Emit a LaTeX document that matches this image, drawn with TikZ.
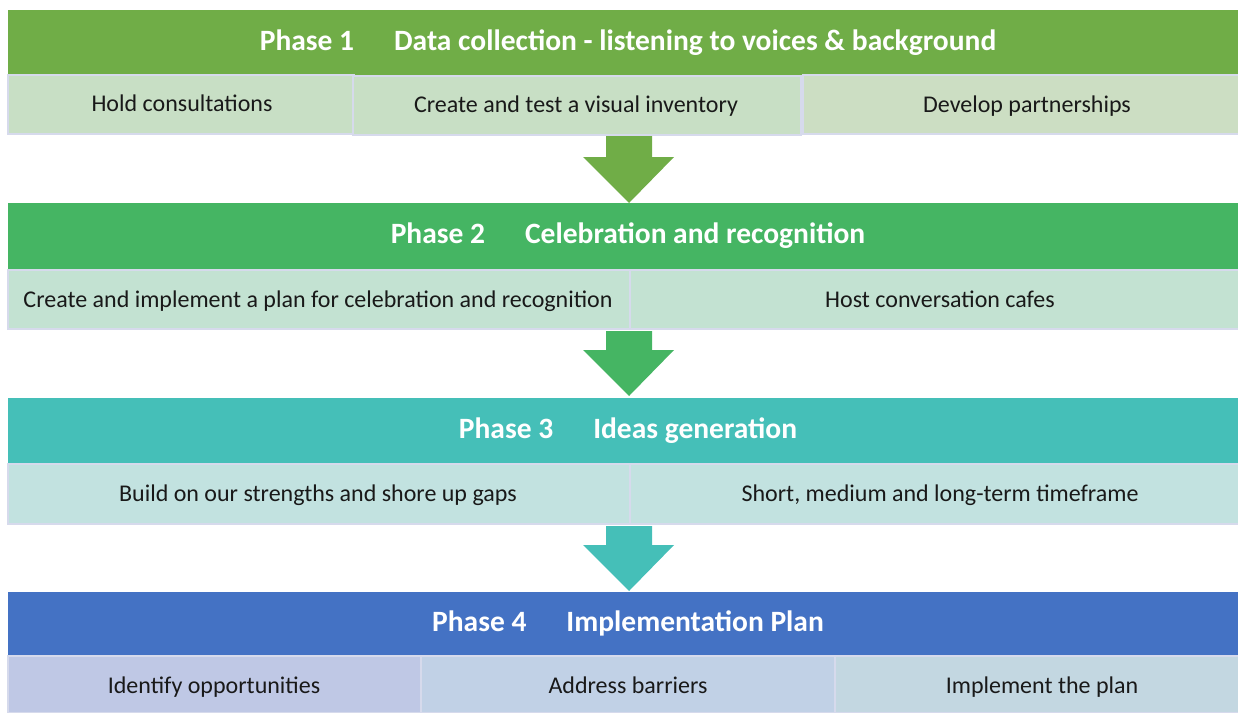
\documentclass[tikz,border=0pt]{standalone}
\usepackage{fontspec}
\setmainfont{Carlito}
\definecolor{hOne}{HTML}{70AD47}
\definecolor{hTwo}{HTML}{45B563}
\definecolor{hThree}{HTML}{45BFB8}
\definecolor{hFour}{HTML}{4472C4}
\definecolor{rOne}{HTML}{C8DFC5}
\definecolor{rOneB}{HTML}{CCDEC3}
\definecolor{rTwo}{HTML}{C3E2D2}
\definecolor{rThree}{HTML}{C2E2E0}
\definecolor{rFourA}{HTML}{BFC8E5}
\definecolor{rFourB}{HTML}{C1D1E6}
\definecolor{rFourC}{HTML}{C3D7E1}
\definecolor{edgeC}{HTML}{D6DAEC}
\tikzset{
  header/.style={fill=#1, draw=none},
  cell/.style={fill=#1, draw=edgeC, line width=1.5pt},
  htext/.style={text=white, font=\fontsize{29.5}{34}\selectfont\bfseries, anchor=center, text height=0.66em, text depth=0.2em, yshift=-5pt},
  ctext/.style={text=black!90, font=\fontsize{24}{28}\selectfont, anchor=center, text height=0.66em, text depth=0.2em, yshift=-4pt},
  blockarrow/.style={fill=#1, draw=none}
}
\begin{document}
\begin{tikzpicture}[x=1pt,y=-1pt]
\useasboundingbox (0,0) rectangle (1238,712);
% Phase 1
\fill[header=hOne] (8,10) rectangle (1238,75);
\node[htext] (p1) at (628,43) {Phase 1\hspace{40pt}Data collection - listening to voices \& background};
\filldraw[cell=rOne] (8,75) rectangle (354,134);
\filldraw[cell=rOne] (353,76) rectangle (801,135);
\filldraw[cell=rOneB] (803,75) rectangle (1239,134);
\node[ctext] (c11) at (182,105) {Hold consultations};
\node[ctext] (c12) at (576,106) {Create and test a visual inventory};
\node[ctext] (c13) at (1027,106) {Develop partnerships};
% Arrow 1
\fill[blockarrow=hOne] (606,136) -- (652,136) -- (652,157) -- (674,157) -- (629,203) -- (583,157) -- (606,157) -- cycle;
% Phase 2
\fill[header=hTwo] (8,203) rectangle (1238,270);
\node[htext] (p2) at (628,236) {Phase 2\hspace{40pt}Celebration and recognition};
\filldraw[cell=rTwo] (8,270) rectangle (630,329);
\filldraw[cell=rTwo] (630,270) rectangle (1239,329);
\node[ctext] (c21) at (318,301) {Create and implement a plan for celebration and recognition};
\node[ctext] (c22) at (940,301) {Host conversation cafes};
% Arrow 2
\fill[blockarrow=hTwo] (606,331) -- (652,331) -- (652,350) -- (674,350) -- (629,396) -- (583,350) -- (606,350) -- cycle;
% Phase 3
\fill[header=hThree] (8,398) rectangle (1238,464);
\node[htext] (p3) at (628,431) {Phase 3\hspace{40pt}Ideas generation};
\filldraw[cell=rThree] (8,464) rectangle (630,524);
\filldraw[cell=rThree] (630,464) rectangle (1239,524);
\node[ctext] (c31) at (318,495) {Build on our strengths and shore up gaps};
\node[ctext] (c32) at (940,495) {Short, medium and long-term timeframe};
% Arrow 3
\fill[blockarrow=hThree] (606,526) -- (652,526) -- (652,545) -- (674,545) -- (629,591) -- (583,545) -- (606,545) -- cycle;
% Phase 4
\fill[header=hFour] (8,592) rectangle (1238,656);
\node[htext] (p4) at (628,624) {Phase 4\hspace{40pt}Implementation Plan};
\filldraw[cell=rFourA] (8,656) rectangle (421,713);
\filldraw[cell=rFourB] (421,656) rectangle (835,713);
\filldraw[cell=rFourC] (835,656) rectangle (1239,713);
\node[ctext] (c41) at (214,687) {Identify opportunities};
\node[ctext] (c42) at (628,687) {Address barriers};
\node[ctext] (c43) at (1042,687) {Implement the plan};
\end{tikzpicture}
\end{document}
